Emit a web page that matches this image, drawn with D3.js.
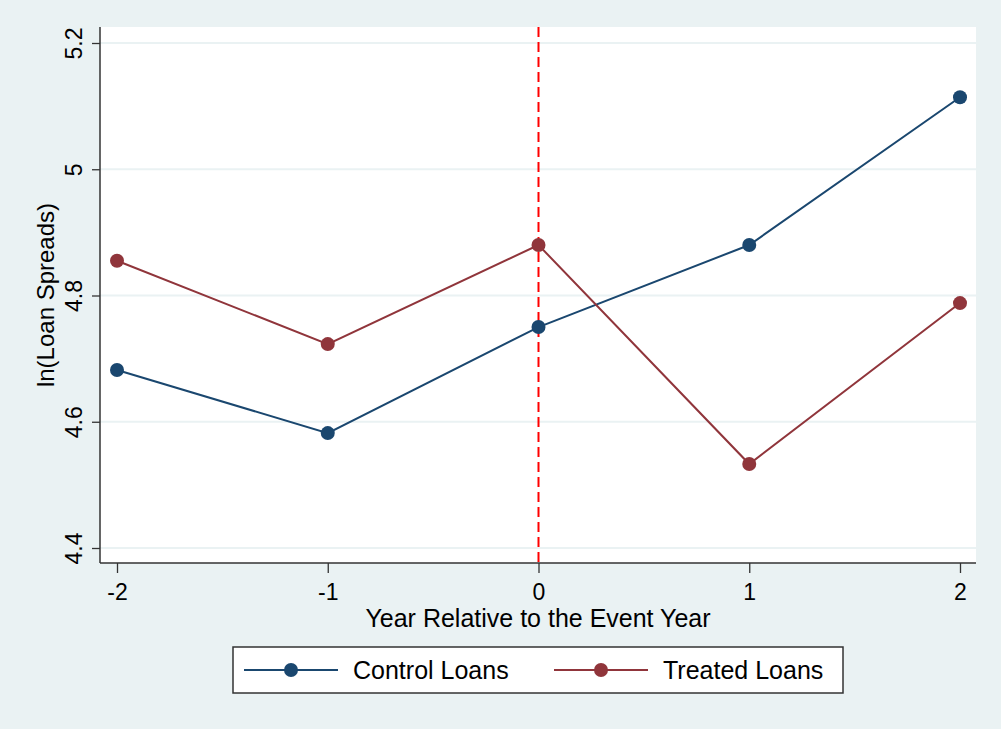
<!DOCTYPE html>
<html>
<head>
<meta charset="utf-8">
<script src="https://cdn.jsdelivr.net/npm/d3@7"></script>
<style>
  body { margin: 0; background: #EAF2F3; }
  text { font-family: Helvetica, "Liberation Sans", Arial, sans-serif; fill: #000; }
</style>
</head>
<body>
<svg id="chart" width="1001" height="729"></svg>
<script>
// values
var years = [-2, -1, 0, 1, 2];
var controlLoans = [4.682, 4.582, 4.750, 4.880, 5.114];
var treatedLoans = [4.855, 4.723, 4.880, 4.533, 4.788];
var yTicks = [4.4, 4.6, 4.8, 5, 5.2];
var seriesNames = ["Control Loans", "Treated Loans"];
var seriesColors = ["#1A476F", "#90353B"];
var eventYear = 0;

var svg = d3.select("#chart");
var W = 1001, H = 729;

svg.append("rect").attr("width", W).attr("height", H).attr("fill", "#EAF2F3");

var plot = { left: 100, right: 976, top: 27, bottom: 563 };

var x = d3.scaleLinear().domain([-2, 2]).range([117, 960]);
var y = d3.scaleLinear().domain([4.4, 5.2]).range([548, 43]);

// plot region
svg.append("rect")
  .attr("x", plot.left).attr("y", plot.top)
  .attr("width", plot.right - plot.left)
  .attr("height", plot.bottom - plot.top)
  .attr("fill", "#fff");

// gridlines
svg.append("g").selectAll("line")
  .data(yTicks)
  .join("line")
  .attr("x1", plot.left).attr("x2", plot.right)
  .attr("y1", d => y(d)).attr("y2", d => y(d))
  .attr("stroke", "#EAF2F3").attr("stroke-width", 2);

// y axis
var yAxis = svg.append("g")
  .attr("transform", "translate(" + plot.left + ",0)")
  .call(d3.axisLeft(y).tickValues(yTicks).tickSize(8).tickFormat(d => String(d)));
yAxis.select(".domain").remove();
yAxis.selectAll(".tick line").attr("stroke", "#333").attr("stroke-width", 1.3);
yAxis.selectAll(".tick text")
  .attr("font-size", 23)
  .attr("x", null).attr("dy", null)
  .attr("transform", "translate(-18,0) rotate(-90)")
  .attr("text-anchor", "middle");

svg.append("line")
  .attr("x1", plot.left).attr("x2", plot.left)
  .attr("y1", plot.top).attr("y2", plot.bottom)
  .attr("stroke", "#333").attr("stroke-width", 1.5);

// x axis
var xAxis = svg.append("g")
  .attr("transform", "translate(0," + plot.bottom + ")")
  .call(d3.axisBottom(x).tickValues(years).tickSize(10).tickFormat(d => String(d)));
xAxis.select(".domain").remove();
xAxis.selectAll(".tick line").attr("stroke", "#333").attr("stroke-width", 1.3);
xAxis.selectAll(".tick text")
  .attr("font-size", 23)
  .attr("y", 37).attr("dy", null);

svg.append("line")
  .attr("x1", plot.left).attr("x2", plot.right)
  .attr("y1", plot.bottom).attr("y2", plot.bottom)
  .attr("stroke", "#333").attr("stroke-width", 1.5);

// axis titles
svg.append("text")
  .attr("transform", "translate(54," + ((plot.top + plot.bottom) / 2) + ") rotate(-90)")
  .attr("text-anchor", "middle")
  .attr("font-size", 24)
  .text("ln(Loan Spreads)");

svg.append("text")
  .attr("x", 538).attr("y", 627)
  .attr("text-anchor", "middle")
  .attr("font-size", 25)
  .text("Year Relative to the Event Year");

// event line
svg.append("line")
  .attr("x1", x(eventYear)).attr("x2", x(eventYear))
  .attr("y1", plot.top).attr("y2", plot.bottom)
  .attr("stroke", "#FF0000").attr("stroke-width", 2)
  .attr("stroke-dasharray", "10,5");

// series
var series = [controlLoans, treatedLoans];
var line = d3.line().x((d, i) => x(years[i])).y(d => y(d));

series.forEach(function(vals, k) {
  svg.append("path")
    .datum(vals)
    .attr("d", line)
    .attr("fill", "none")
    .attr("stroke", seriesColors[k])
    .attr("stroke-width", 2);
  svg.append("g").selectAll("circle")
    .data(vals)
    .join("circle")
    .attr("cx", (d, i) => x(years[i]))
    .attr("cy", d => y(d))
    .attr("r", 7)
    .attr("fill", seriesColors[k]);
});

// legend
var legend = svg.append("g");
legend.append("rect")
  .attr("x", 233).attr("y", 647)
  .attr("width", 610).attr("height", 46)
  .attr("fill", "#fff").attr("stroke", "#333").attr("stroke-width", 1.5);

var legendX = [244, 554];
seriesNames.forEach(function(name, k) {
  var lx = legendX[k];
  legend.append("line")
    .attr("x1", lx).attr("x2", lx + 94)
    .attr("y1", 670).attr("y2", 670)
    .attr("stroke", seriesColors[k]).attr("stroke-width", 2);
  legend.append("circle")
    .attr("cx", lx + 47).attr("cy", 670).attr("r", 7)
    .attr("fill", seriesColors[k]);
  legend.append("text")
    .attr("x", lx + 109).attr("y", 679)
    .attr("font-size", 25)
    .text(name);
});
</script>
</body>
</html>
